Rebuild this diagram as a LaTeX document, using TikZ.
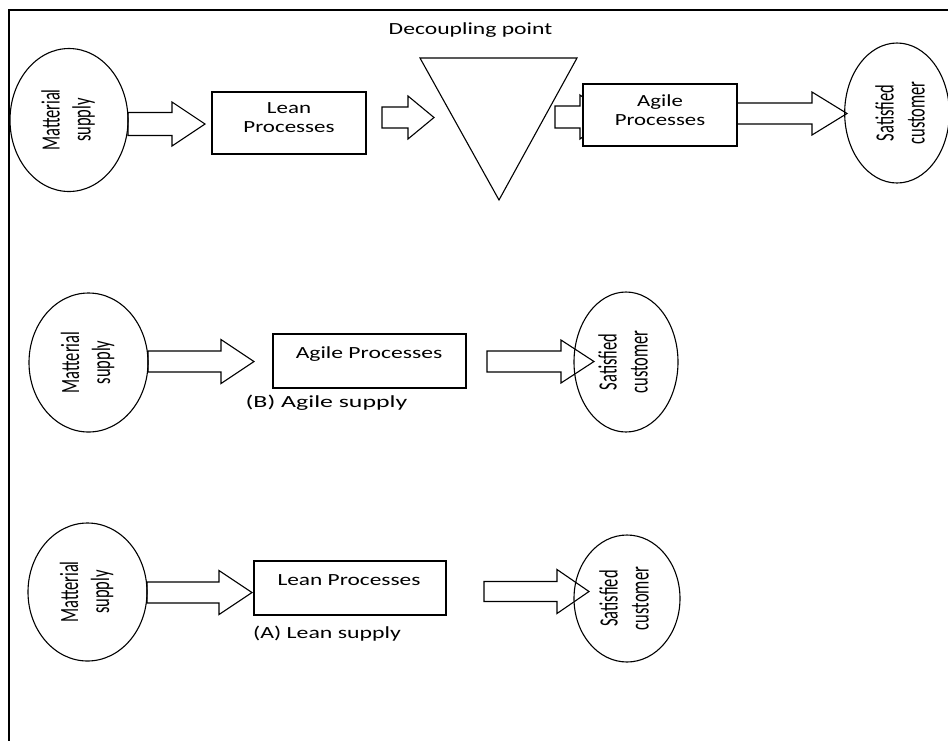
\documentclass[tikz,border=0pt]{standalone}
\usepackage{fontspec}
\setmainfont{Carlito}
\usetikzlibrary{shapes.geometric}

% vertical two-line label inside the round terminals
\newcommand\vlab[2]{\rotatebox{90}{\scalebox{0.97}[1.55]{\renewcommand\arraystretch{1.0}\begin{tabular}{@{}c@{}}#1\\#2\end{tabular}}}}
% horizontally widened label: #1 = stretch, #2 = text (lines split by \\)
\newcommand\hlab[2]{\scalebox{#1}[1]{\renewcommand\arraystretch{0.95}\begin{tabular}{@{}c@{}}#2\end{tabular}}}
% hollow block arrow: start x, head base x, tip x, centre y, shaft half width, head half width
\newcommand\blockarrow[6]{%
  \draw[barrow] (#1,#4-#5) -- (#2,#4-#5) -- (#2,#4-#6) -- (#3,#4)
    -- (#2,#4+#6) -- (#2,#4+#5) -- (#1,#4+#5) -- cycle;}

\begin{document}
\begin{tikzpicture}[x=1pt,y=-1pt,
  every node/.style={font=\fontsize{17}{20}\selectfont},
  terminal/.style={ellipse,draw,line width=1.1pt,inner sep=0pt},
  procbox/.style={rectangle,draw,line width=1.1pt,fill=white,inner sep=0pt},
  barrow/.style={draw,line width=1.1pt,line join=miter},
  txt/.style={inner sep=0pt}]
\useasboundingbox (0,0) rectangle (948,740);
\clip (0,0) rectangle (948,740);

% outer frame (only top and left edges fall inside the page)
\draw[line width=1.3pt] (9,760) -- (9,10) -- (970,10);

% ---------- combined lean/agile chain ----------
\node[terminal,minimum width=118pt,minimum height=143pt] (ms1) at (69,120)
  {\vlab{Matterial}{supply}};
\blockarrow{128}{172}{205}{124}{11.5}{22}
\node[procbox,minimum width=154pt,minimum height=62pt] (lean1) at (289,123) {};
\node[txt] (lean1t) at (289,119.5) {\hlab{1.35}{Lean\\Processes}};
\blockarrow{382}{408}{434}{117.5}{10.5}{21.5}
\node[txt] (dp) at (470.5,31) {\hlab{1.39}{Decoupling point}};
\draw[line width=1.1pt,fill=white,line join=miter] (420,58) -- (577,58) -- (499,200) -- cycle;
\blockarrow{555}{580}{610}{117}{11}{22}
\node[procbox,minimum width=154pt,minimum height=62pt] (agile1) at (660,115) {};
\node[txt] (agile1t) at (660,112) {\hlab{1.34}{Agile\\Processes}};
\blockarrow{737}{812}{847}{113.5}{10.5}{21.5}
\node[terminal,minimum width=104pt,minimum height=140pt] (sc1) at (897,113)
  {\hspace*{12pt}\vlab{Satisfied}{customer}};

% ---------- (B) agile supply ----------
\node[terminal,minimum width=119pt,minimum height=139pt] (ms2) at (88.5,362.5)
  {\vlab{Matterial}{supply}};
\blockarrow{148}{221}{254}{361.5}{10.5}{22}
\node[procbox,minimum width=193pt,minimum height=54pt] (agile2) at (369.5,361) {};
\node[txt] (agile2t) at (369,355) {\hlab{1.39}{Agile Processes}};
\node[txt] (capB) at (326.5,404) {\hlab{1.52}{(B) Agile supply}};
\blockarrow{487}{561}{594}{361.5}{10.5}{21.5}
\node[terminal,minimum width=104pt,minimum height=140pt] (sc2) at (626,362)
  {\vlab{Satisfied}{customer}};

% ---------- (A) lean supply ----------
\node[terminal,minimum width=119pt,minimum height=138pt] (ms3) at (87.5,592)
  {\vlab{Matterial}{supply}};
\blockarrow{147}{219}{252}{592.5}{10.5}{22}
\node[procbox,minimum width=192pt,minimum height=54pt] (lean3) at (350,588) {};
\node[txt] (lean3t) at (349,582) {\hlab{1.375}{Lean Processes}};
\node[txt] (capA) at (327,635) {\hlab{1.40}{(A) Lean supply}};
\blockarrow{484}{557}{589}{591.5}{10}{22}
\node[terminal,minimum width=106pt,minimum height=127pt] (sc3) at (627,598.5)
  {\vlab{Satisfied}{customer}};
\end{tikzpicture}
\end{document}
